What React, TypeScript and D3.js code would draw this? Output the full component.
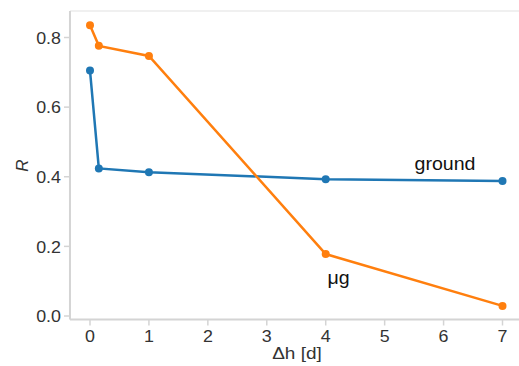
import React from "react";
import * as d3 from "d3";

const xTicks = [0, 1, 2, 3, 4, 5, 6, 7];
const yTicks = [0.0, 0.2, 0.4, 0.6, 0.8];
const groundX = [0, 0.15, 1, 4, 7];
const groundY = [0.705, 0.424, 0.413, 0.393, 0.388];
const ugX = [0, 0.15, 1, 4, 7];
const ugY = [0.835, 0.776, 0.747, 0.178, 0.029];

const W = 519, H = 366;

export default function App() {
  const x = d3.scaleLinear().domain([0, 7]).range([90, 502.5]);
  const y = d3.scaleLinear().domain([0, 0.8]).range([316, 37.5]);
  const left = x(-0.34);
  const bottom = 319.5;
  const top = 11;
  const line = d3.line<[number, number]>().x(d => x(d[0])).y(d => y(d[1]));
  const g = groundX.map((v, i) => [v, groundY[i]] as [number, number]);
  const u = ugX.map((v, i) => [v, ugY[i]] as [number, number]);
  const font = "Liberation Sans, Arial, sans-serif";
  const sx = 1.12;
  return (
    <svg width={W} height={H} style={{ position: "absolute", left: 0, top: 0, background: "#fff" }} fontFamily={font}>
      <line x1={left} x2={W} y1={top} y2={top} stroke="#ebebeb" strokeWidth={1.5} />
      <line x1={left} x2={left} y1={top} y2={bottom} stroke="#d4d4d4" strokeWidth={2} />
      <line x1={left} x2={W} y1={bottom} y2={bottom} stroke="#d4d4d4" strokeWidth={2} />
      {yTicks.map(t => (
        <g key={t}>
          <line x1={left - 6} x2={left} y1={y(t)} y2={y(t)} stroke="#d4d4d4" strokeWidth={1.5} />
          <text transform={`translate(${left - 9},${y(t)}) scale(1.05,1)`} dy="0.36em" textAnchor="end" fontSize={17} fill="#333">{d3.format(".1f")(t)}</text>
        </g>
      ))}
      {xTicks.map(t => (
        <g key={t}>
          <line x1={x(t)} x2={x(t)} y1={bottom} y2={bottom + 6} stroke="#d4d4d4" strokeWidth={1.5} />
          <text transform={`translate(${x(t)},${bottom + 22}) scale(1.05,1)`} textAnchor="middle" fontSize={17} fill="#333">{t}</text>
        </g>
      ))}
      <text transform={`translate(297,358.5) scale(${sx},1)`} textAnchor="middle" fontSize={17} fill="#333">Δh [d]</text>
      <text transform={`translate(28,165.5) rotate(-90)`} textAnchor="middle" fontSize={17} fontStyle="italic" fill="#333">R</text>
      <path d={line(g) || ""} fill="none" stroke="#1f77b4" strokeWidth={2.5} />
      {g.map((d, i) => <circle key={i} cx={x(d[0])} cy={y(d[1])} r={4} fill="#1f77b4" />)}
      <path d={line(u) || ""} fill="none" stroke="#ff7f0e" strokeWidth={2.5} />
      {u.map((d, i) => <circle key={i} cx={x(d[0])} cy={y(d[1])} r={4} fill="#ff7f0e" />)}
      <text transform={`translate(445,170) scale(${sx},1)`} textAnchor="middle" fontSize={17.5} fill="#111">ground</text>
      <text transform={`translate(338.5,284) scale(${sx},1)`} textAnchor="middle" fontSize={17.5} fill="#111">μg</text>
    </svg>
  );
}
